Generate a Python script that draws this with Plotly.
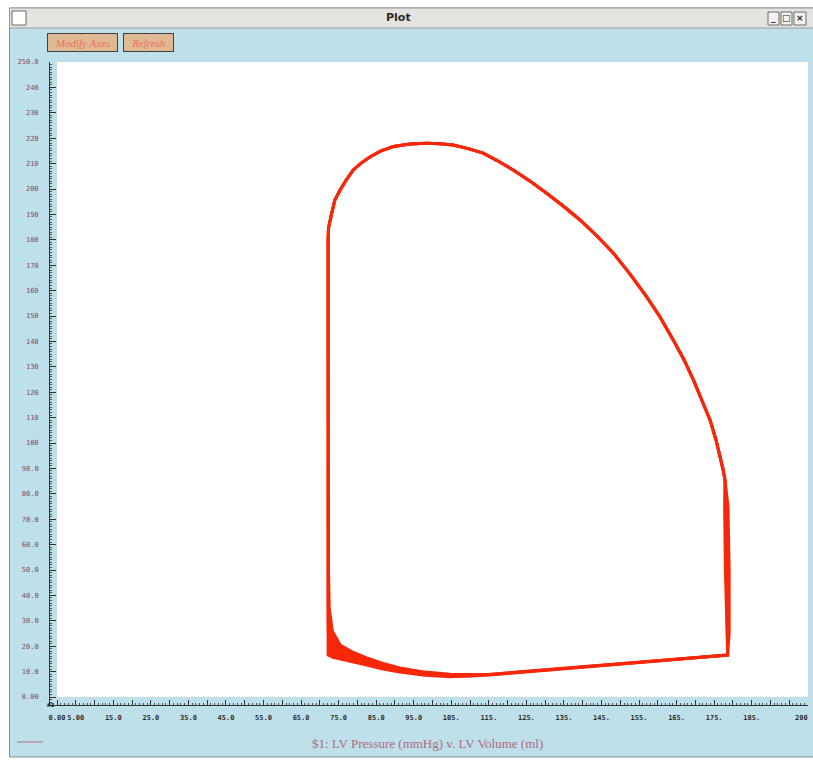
import plotly.graph_objects as go

# ---------------- data ----------------
# Upper part of the loop shared by all beats: LV volume (ml), LV pressure (mmHg)
arc_vol = [72.2, 72.3, 73.15, 74.0, 75.4, 77.0, 78.9, 81.0, 83.4, 86.3, 89.6, 94.0, 98.5,
           102.0, 105.5, 109.5, 113.5, 117.2, 121.5, 126.0, 130.4, 134.8, 139.3, 143.8,
           148.2, 152.6, 157.0, 160.6, 164.1, 167.0, 169.5, 171.8, 173.9, 175.5, 176.6,
           177.4, 177.9]
arc_pres = [179.9, 184.6, 190.4, 195.7, 199.6, 203.5, 207.5, 210.2, 212.7, 215.0, 216.7,
            217.7, 218.0, 217.8, 217.3, 215.9, 214.1, 211.2, 207.5, 203.1, 198.3, 193.3,
            187.8, 181.5, 174.7, 166.5, 157.6, 149.6, 140.6, 132.7, 124.8, 116.9, 109.1,
            101.2, 94.6, 89.4, 85.4]

# right (isovolumic) side of three overlapping beats
right_vol_1 = [178.35, 178.6]
right_pres_1 = [57.9, 16.5]
right_vol_2 = [178.7, 179.0, 179.0, 178.6]
right_pres_2 = [75.0, 50.0, 25.0, 16.5]
right_vol_3 = [177.8, 178.0, 178.3, 178.6]
right_pres_3 = [75.0, 50.0, 25.0, 16.5]

# bottom (filling) side of three overlapping beats
bottom_vol_1 = [115.3, 110.0, 104.7, 98.0, 91.35, 86.8, 82.5, 78.6, 75.4, 73.5, 72.25, 72.2]
bottom_pres_1 = [8.7, 8.3, 8.3, 9.1, 10.6, 12.0, 13.9, 16.1, 19.2, 22.0, 25.1, 40.0]
bottom_vol_2 = [115.3, 104.7, 98.0, 91.3, 86.8, 82.5, 78.6, 76.0, 73.5, 72.2]
bottom_pres_2 = [8.7, 8.0, 8.6, 9.8, 11.0, 12.6, 13.8, 14.6, 15.6, 16.5]
bottom_vol_3 = [115.3, 104.7, 98.0, 91.3, 86.8, 82.5, 78.6, 75.4, 73.3, 72.5, 72.3]
bottom_pres_3 = [8.9, 9.0, 9.8, 11.4, 13.2, 15.4, 17.8, 20.5, 26.0, 35.0, 50.0]

beats = [(right_vol_1, right_pres_1, bottom_vol_1, bottom_pres_1),
         (right_vol_2, right_pres_2, bottom_vol_2, bottom_pres_2),
         (right_vol_3, right_pres_3, bottom_vol_3, bottom_pres_3)]

x_tickvals = [0, 5, 10, 15, 20, 25, 30, 35, 40, 45, 50, 55, 60, 65, 70, 75, 80, 85, 90, 95, 100,
              105, 110, 115, 120, 125, 130, 135, 140, 145, 150, 155, 160, 165, 170, 175, 180,
              185, 190, 195, 200]
x_ticktext = ["0.00", "5.00", "", "15.0", "", "25.0", "", "35.0", "", "45.0", "", "55.0", "",
              "65.0", "", "75.0", "", "85.0", "", "95.0", "", "105.", "", "115.", "", "125.",
              "", "135.", "", "145.", "", "155.", "", "165.", "", "175.", "", "185.", "", "",
              "200"]
y_tickvals = [0, 10, 20, 30, 40, 50, 60, 70, 80, 90, 100, 110, 120, 130, 140, 150, 160, 170,
              180, 190, 200, 210, 220, 230, 240, 250]
y_ticktext = ["0.00", "10.0", "20.0", "30.0", "40.0", "50.0", "60.0", "70.0", "80.0", "90.0",
              "100", "110", "120", "130", "140", "150", "160", "170", "180", "190", "200",
              "210", "220", "230", "240", "250.0"]

window_title = "Plot"
button_labels = ["Modify Axes", "Refresh"]
axis_caption = "$1: LV Pressure (mmHg) v. LV Volume (ml)"
trace_tag = "#1"

# ---------------- layout geometry (pixels) ----------------
W, H = 813, 762
L, R, T, B = 50, 808, 62, 705          # plot area incl. offset axes
BLUE = "#bde0ea"
RED = "#f7280a"
XTICK_FONT = dict(family="DejaVu Sans Mono", size=7, color="#2e2e2e", weight="bold")


def px(x):
    return (x - L) / (R - L)


def py(y):
    return (B - y) / (B - T)


fig = go.Figure()

# overlap band where the beats spread apart (bottom-left corner)
fig.add_trace(go.Scatter(x=bottom_vol_2 + bottom_vol_3[::-1],
                         y=bottom_pres_2 + bottom_pres_3[::-1],
                         mode="lines", fill="toself", fillcolor=RED,
                         line=dict(color=RED, width=1),
                         hoverinfo="skip", showlegend=False))
for rv, rp, bv, bp in beats:
    fig.add_trace(go.Scatter(x=arc_vol + rv + bv + arc_vol[:1],
                             y=arc_pres + rp + bp + arc_pres[:1],
                             mode="lines", line=dict(color=RED, width=3),
                             hoverinfo="skip", showlegend=False))

shapes = []
# window body
shapes.append(dict(type="rect", xref="paper", yref="paper", layer="below",
                   x0=px(9.5), x1=px(814), y0=py(757), y1=py(8),
                   fillcolor=BLUE, line=dict(color="#8c8c8c", width=1)))
# title bar
shapes.append(dict(type="rect", xref="paper", yref="paper",
                   x0=px(9.5), x1=px(814), y0=py(28), y1=py(8),
                   fillcolor="#e5e3df", line=dict(color="#9a9a9a", width=1)))
# left window icon
shapes.append(dict(type="rect", xref="paper", yref="paper",
                   x0=px(12), x1=px(26), y0=py(25), y1=py(11),
                   fillcolor="#ffffff", line=dict(color="#6a6a6a", width=1)))
# right window buttons
for x0, x1 in [(768, 779), (781, 792), (794, 806)]:
    shapes.append(dict(type="rect", xref="paper", yref="paper",
                       x0=px(x0), x1=px(x1), y0=py(25), y1=py(12),
                       fillcolor="#f2f1ef", line=dict(color="#6a6a6a", width=1)))
# white data area
shapes.append(dict(type="rect", xref="x", yref="y", layer="below",
                   x0=0, x1=200, y0=0, y1=250,
                   fillcolor="#ffffff", line=dict(width=0)))
# legend swatch line
shapes.append(dict(type="line", xref="paper", yref="paper",
                   x0=px(17), x1=px(43), y0=py(742), y1=py(742),
                   line=dict(color="#b06f92", width=1)))

annotations = []


def note(text, x, y, **kw):
    d = dict(text=text, xref="paper", yref="paper", x=px(x), y=py(y),
             xanchor="center", yanchor="middle", showarrow=False)
    d.update(kw)
    annotations.append(d)


note(window_title, 398, 18,
     font=dict(family="DejaVu Sans", size=11, color="#2a2a2a", weight="bold"))
for glyph, xc in [("_", 773.5), ("□", 786.5), ("×", 800)]:
    note("<b>%s</b>" % glyph, xc, 18.5,
         font=dict(family="DejaVu Sans", size=9, color="#222"))
for label, x0, x1 in [(button_labels[0], 47, 118), (button_labels[1], 123, 174)]:
    note("<i>%s</i>" % label, (x0 + x1) / 2, 42.5,
         width=x1 - x0 - 4, height=15,
         bgcolor="#dfb993", bordercolor="#3f3f3f", borderwidth=1, borderpad=1,
         font=dict(family="Liberation Serif", size=11, color="#f2705f"))
note(axis_caption, 427, 743,
     font=dict(family="Liberation Serif", size=13, color="#b06a80"))
note("<b>%s</b>" % trace_tag, 51, 704,
     font=dict(family="DejaVu Sans Mono", size=6, color="#222"))
# last x tick label is drawn just inside the window edge, like the reference
annotations.append(dict(text=x_ticktext[-1], xref="x", yref="paper",
                        x=x_tickvals[-1], y=py(717.5), xanchor="right", yanchor="middle",
                        xshift=2, showarrow=False, font=XTICK_FONT))

fig.update_layout(
    width=W, height=H,
    margin=dict(l=L, r=W - R, t=T, b=H - B, pad=0, autoexpand=False),
    paper_bgcolor="#ffffff", plot_bgcolor=BLUE,
    shapes=shapes, annotations=annotations,
    showlegend=False, hovermode=False,
    xaxis=dict(range=[-7 / 3.755, 200], showgrid=False, zeroline=False,
               automargin=False,
               showline=True, linecolor="#333", linewidth=1,
               ticks="inside", ticklen=5, tickcolor="#333", tickwidth=1,
               tickmode="array", tickvals=x_tickvals,
               ticktext=x_ticktext[:-1] + [""],
               tickangle=0, ticklabelstandoff=6,
               tickfont=XTICK_FONT,
               minor=dict(dtick=1, ticklen=2, ticks="inside", tickcolor="#555",
                          showgrid=False)),
    yaxis=dict(range=[-8 / 2.54, 250], showgrid=False, zeroline=False,
               automargin=False,
               showline=True, linecolor="#333", linewidth=1,
               ticks="inside", ticklen=6, tickcolor="#333", tickwidth=1,
               tickmode="array", tickvals=y_tickvals, ticktext=y_ticktext,
               ticklabelstandoff=9,
               tickfont=dict(family="DejaVu Sans Mono", size=7, color="#7a4c6e"),
               minor=dict(dtick=1, ticklen=2, ticks="inside", tickcolor="#555",
                          showgrid=False)),
)

fig.write_html("out.html", config={"displayModeBar": False, "staticPlot": True},
               post_script="document.body.style.margin='0';"
                           "document.body.style.overflow='hidden';")
